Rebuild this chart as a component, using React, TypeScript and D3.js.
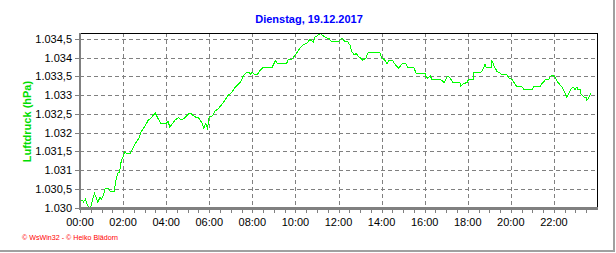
import React from "react";
import * as d3 from "d3";

const minutes = [
  0, 5, 10, 15, 20, 25, 30, 35, 40, 45, 50, 55, 60, 65, 70, 80, 85, 95, 100, 105, 110, 115, 120, 125, 130, 140, 145, 155, 165, 170, 180, 190, 195, 205, 210, 215, 225, 240, 245, 250, 260, 265, 275, 280, 285, 295, 305, 310, 320, 330, 340, 345, 350, 355, 360, 370, 375, 385, 390, 395, 405, 410, 425, 430, 435, 445, 450, 455, 465, 470, 475, 480, 485, 495, 500, 510, 535, 540, 545, 550, 575, 580, 590, 600, 610, 620, 635, 640, 650, 655, 660, 670, 680, 695, 700, 720, 730, 738, 745, 752, 757, 763, 770, 775, 780, 788, 797, 802, 835, 841, 849, 855, 860, 870, 880, 888, 897, 908, 913, 930, 936, 961, 964, 969, 975, 980, 1003, 1014, 1025, 1033, 1039, 1058, 1061, 1067, 1078, 1083, 1095, 1097, 1117, 1122, 1128, 1131, 1145, 1147, 1153, 1161, 1167, 1175, 1189, 1195, 1203, 1211, 1217, 1231, 1237, 1259, 1264, 1281, 1287, 1298, 1306, 1312, 1317, 1323, 1328, 1334, 1342, 1345, 1351, 1356, 1362, 1367, 1373, 1379, 1384, 1387, 1393, 1395, 1404, 1409, 1412, 1418, 1423,
];

const pressure = [
  1030.18, 1030.2, 1030.15, 1030.22, 1030.09, 1030.0, 1030.02, 1030.2, 1030.38, 1030.27, 1030.13, 1030.27, 1030.22, 1030.33, 1030.5, 1030.5, 1030.42, 1030.42, 1030.71, 1030.92, 1030.93, 1031.25, 1031.36, 1031.49, 1031.43, 1031.45, 1031.54, 1031.72, 1031.86, 1032.02, 1032.16, 1032.33, 1032.36, 1032.47, 1032.52, 1032.42, 1032.24, 1032.24, 1032.31, 1032.15, 1032.27, 1032.34, 1032.4, 1032.34, 1032.34, 1032.43, 1032.52, 1032.5, 1032.42, 1032.4, 1032.25, 1032.12, 1032.24, 1032.12, 1032.42, 1032.45, 1032.57, 1032.63, 1032.7, 1032.75, 1032.88, 1032.97, 1033.1, 1033.19, 1033.24, 1033.33, 1033.4, 1033.52, 1033.61, 1033.61, 1033.56, 1033.61, 1033.56, 1033.56, 1033.65, 1033.74, 1033.74, 1033.84, 1033.93, 1033.84, 1033.84, 1033.95, 1033.95, 1034.08, 1034.22, 1034.33, 1034.41, 1034.49, 1034.41, 1034.56, 1034.58, 1034.65, 1034.56, 1034.5, 1034.43, 1034.43, 1034.52, 1034.43, 1034.43, 1034.34, 1034.17, 1034.08, 1034.11, 1034.04, 1034.0, 1033.93, 1034.0, 1034.13, 1034.13, 1034.0, 1033.93, 1033.84, 1033.93, 1033.93, 1033.79, 1033.72, 1033.84, 1033.84, 1033.74, 1033.74, 1033.58, 1033.58, 1033.49, 1033.45, 1033.52, 1033.43, 1033.43, 1033.34, 1033.52, 1033.42, 1033.34, 1033.33, 1033.24, 1033.3, 1033.34, 1033.43, 1033.43, 1033.61, 1033.61, 1033.68, 1033.83, 1033.75, 1033.74, 1033.93, 1033.79, 1033.64, 1033.61, 1033.55, 1033.55, 1033.45, 1033.42, 1033.31, 1033.22, 1033.22, 1033.15, 1033.15, 1033.22, 1033.22, 1033.31, 1033.43, 1033.43, 1033.52, 1033.52, 1033.49, 1033.38, 1033.31, 1033.22, 1033.17, 1033.06, 1032.93, 1033.06, 1033.15, 1033.22, 1033.15, 1033.22, 1033.15, 1033.15, 1033.04, 1032.95, 1032.95, 1032.86, 1032.95, 1033.04,
];

const yTickValues = [1030, 1030.5, 1031, 1031.5, 1032, 1032.5, 1033, 1033.5, 1034, 1034.5];
const yTickLabels = ["1.030", "1.030,5", "1.031", "1.031,5", "1.032", "1.032,5", "1.033", "1.033,5", "1.034", "1.034,5"];
const xTickHours = [0, 2, 4, 6, 8, 10, 12, 14, 16, 18, 20, 22];
const xTickLabels = ["00:00", "02:00", "04:00", "06:00", "08:00", "10:00", "12:00", "14:00", "16:00", "18:00", "20:00", "22:00"];

const title = "Dienstag, 19.12.2017";
const yLabel = "Luftdruck (hPa)";
const footer = "\u00a9 WsWin32  -  \u00a9 Heiko Blädorn";

export default function App() {
  const W = 616, H = 253;
  const L = 80, R = 597, T = 33, B = 207.5;
  const x = d3.scaleLinear().domain([0, 1440]).range([L, R]);
  const y = d3.scaleLinear().domain([1030, 1034.66]).range([B, T]);
  const pts = minutes.map((m, i) => [m, pressure[i]] as [number, number]);
  const line = d3.line<[number, number]>().x((d) => x(d[0])).y((d) => y(d[1]));
  const minorTicks = d3.range(0, 1440, 30);
  const font = "'Liberation Sans', Arial, sans-serif";

  return (
    <svg width={W} height={H} style={{ position: "absolute", left: 0, top: 0, background: "#fff" }} fontFamily={font}>
      <rect x={0} y={0} width={W} height={H} fill="#fff" />
      <text x={309} y={23} textAnchor="middle" fontSize={11} fontWeight="bold" fill="#0000ff">{title}</text>
      {/* grid */}
      <g stroke="#808080" strokeDasharray="4,3" shapeRendering="crispEdges" strokeWidth={1}>
        {yTickValues.map((v) => (
          <line key={"gy" + v} x1={L} x2={R} y1={Math.round(y(v)) + 0.5} y2={Math.round(y(v)) + 0.5} />
        ))}
        {xTickHours.map((h) => (
          <line key={"gx" + h} x1={Math.round(x(h * 60)) + 0.5} x2={Math.round(x(h * 60)) + 0.5} y1={T} y2={B} />
        ))}
      </g>
      {/* data line */}
      <path d={line(pts) || ""} fill="none" stroke="#00ff00" strokeWidth={1} shapeRendering="crispEdges" />
      {/* frame */}
      <g shapeRendering="crispEdges">
        <line x1={L} x2={R + 1} y1={T + 0.5} y2={T + 0.5} stroke="#000" />
        <line x1={R + 0.5} x2={R + 0.5} y1={T} y2={B} stroke="#000" />
        <line x1={L - 0.5} x2={L - 0.5} y1={T} y2={B + 1} stroke="#808080" strokeWidth={2} />
        <line x1={L - 1} x2={R + 1} y1={B + 0.75} y2={B + 0.75} stroke="#808080" strokeWidth={2.5} />
        {yTickValues.map((v) => (
          <line key={"ty" + v} x1={75} x2={L - 1} y1={Math.round(y(v)) + 0.5} y2={Math.round(y(v)) + 0.5} stroke="#808080" />
        ))}
        {minorTicks.map((m) => (
          <line key={"tx" + m} x1={Math.round(x(m)) + 0.5} x2={Math.round(x(m)) + 0.5} y1={B + 1} y2={B + 5} stroke="#808080" />
        ))}
      </g>
      {/* y labels */}
      <g fontSize={11} fill="#000" textAnchor="end">
        {yTickValues.map((v, i) => (
          <text key={"ly" + v} x={72} y={y(v) + 4}>{yTickLabels[i]}</text>
        ))}
      </g>
      {/* x labels */}
      <g fontSize={11} fill="#000" textAnchor="middle">
        {xTickHours.map((h, i) => (
          <text key={"lx" + h} x={x(h * 60)} y={226}>{xTickLabels[i]}</text>
        ))}
      </g>
      <text transform="translate(31,121.5) rotate(-90)" textAnchor="middle" fontSize={11} fontWeight="bold" fill="#00dd00">{yLabel}</text>
      <text x={22} y={239.5} fontSize={7} fill="#ff0000" textLength={96} lengthAdjust="spacingAndGlyphs">{footer}</text>
      {/* outer frame */}
      <g shapeRendering="crispEdges" stroke="#a0a0a0" strokeWidth={2}>
        <line x1={614} x2={614} y1={0} y2={252} />
        <line x1={0} x2={615} y1={251} y2={251} />
      </g>
    </svg>
  );
}
